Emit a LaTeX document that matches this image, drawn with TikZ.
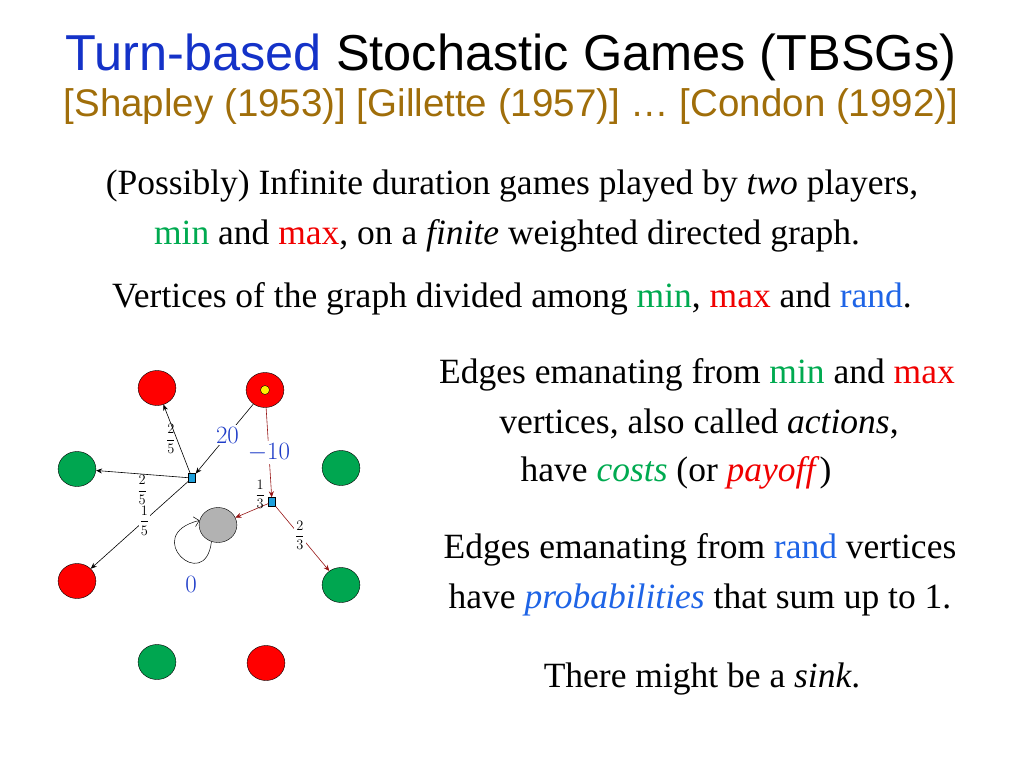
\documentclass[tikz,border=0pt]{standalone}
\usepackage{fontspec}
\setmainfont{Liberation Serif}
\newfontfamily\arialf{Liberation Sans}
\usetikzlibrary{arrows.meta}
\definecolor{tblue}{RGB}{20,50,200}
\definecolor{tbrown}{RGB}{160,110,10}
\definecolor{mingreen}{RGB}{0,170,80}
\definecolor{maxred}{RGB}{240,0,0}
\definecolor{randblue}{RGB}{30,100,230}
\definecolor{nodegreen}{RGB}{0,166,80}
\definecolor{sqblue}{RGB}{30,160,220}
\definecolor{dred}{RGB}{150,20,20}
\definecolor{lblue}{RGB}{30,60,200}
\begin{document}
\begin{tikzpicture}[x=1pt,y=-1pt,
  rd/.style={circle,draw,minimum width=35pt,xscale=1.08,fill=red},
  gr/.style={circle,draw,minimum width=35pt,xscale=1.08,fill=nodegreen},
  gy/.style={circle,draw,minimum width=35pt,xscale=1.08,fill=gray!60},
  sq/.style={rectangle,draw,fill=sqblue,minimum width=7pt,minimum height=9pt,inner sep=0pt},
  ed/.style={-{Stealth[length=6pt,width=5pt]},line width=0.6pt},
  lab/.style={font=\fontsize{15}{18}\selectfont,inner sep=1pt},
  num/.style={font=\fontsize{27}{30}\selectfont,text=lblue,fill=white,inner sep=2pt},
  body/.style={font=\fontsize{35.5}{40}\selectfont}]
\useasboundingbox (0,0) rectangle (1024,768);
\node at (511,57) {\arialf\fontsize{50.5}{54}\selectfont\textcolor{tblue}{Turn-based} Stochastic Games (TBSGs)};
\node[text=tbrown] at (511,107) {\arialf\fontsize{38.5}{42}\selectfont [Shapley (1953)] [Gillette (1957)] \dots\ [Condon (1992)]};
\node[body] at (512,186) {(Possibly) Infinite duration games played by \textit{two} players,};
\node[body] at (507,236) {\textcolor{mingreen}{min} and \textcolor{maxred}{max}, on a \textit{finite} weighted directed graph.};
\node[body] at (512,299) {Vertices of the graph divided among \textcolor{mingreen}{min}, \textcolor{maxred}{max} and \textcolor{randblue}{rand}.};
\node[body] at (697,375) {Edges emanating from \textcolor{mingreen}{min} and \textcolor{maxred}{max}};
\node[body] at (699,424) {vertices, also called \textit{actions},};
\node[body] at (676,473) {have \textcolor{mingreen}{\textit{costs}} (or \textcolor{maxred}{\textit{payoff}})};
\node[body] at (700,550) {Edges emanating from \textcolor{randblue}{rand} vertices};
\node[body] at (700,600) {have \textcolor{randblue}{\textit{probabilities}} that sum up to 1.};
\node[body] at (702,679) {There might be a \textit{sink}.};
% graph
\node[rd] (a) at (157,388) {};
\node[rd] (b) at (265,390) {};
\node[circle,draw,fill=yellow,minimum size=9pt,inner sep=0pt] (by) at (265,390) {};
\node[gr] (c) at (77,469) {};
\node[gr] (d) at (341,468) {};
\node[gy] (g) at (218,525) {};
\node[rd] (e) at (77,581) {};
\node[gr] (f) at (341,585) {};
\node[gr] (h) at (157,662) {};
\node[rd] (i) at (266,663) {};
\node[sq] (s1) at (192,478) {};
\node[sq] (s2) at (272,502) {};
\draw[ed] (b) -- node[num,pos=0.45] {$20$} (s1);
\draw[ed,dred] (b) -- node[num,pos=0.5] {$-10$} (s2);
\draw[ed] (s1) -- node[lab,left,pos=0.5] {$\displaystyle\frac{2}{5}$} (a);
\draw[ed] (s1) -- node[lab,below,pos=0.5] {$\displaystyle\frac{2}{5}$} (c);
\draw[ed] (s1) -- node[lab,fill=white,pos=0.45] {$\displaystyle\frac{1}{5}$} (e);
\draw[ed,dred] (s2) -- node[lab,above right,pos=0.4,text=black,inner sep=0pt] {$\displaystyle\frac{1}{3}$} (g);
\draw[ed,dred] (s2) -- node[lab,fill=white,text=black,pos=0.45] {$\displaystyle\frac{2}{3}$} (f);
\draw[-{Straight Barb[length=5pt]},line width=0.5pt] (g.-110) .. controls (205,595) and (140,535) .. (g.165);
\node[font=\fontsize{27}{30}\selectfont,text=lblue] (z) at (191,584) {$0$};
\end{tikzpicture}
\end{document}
